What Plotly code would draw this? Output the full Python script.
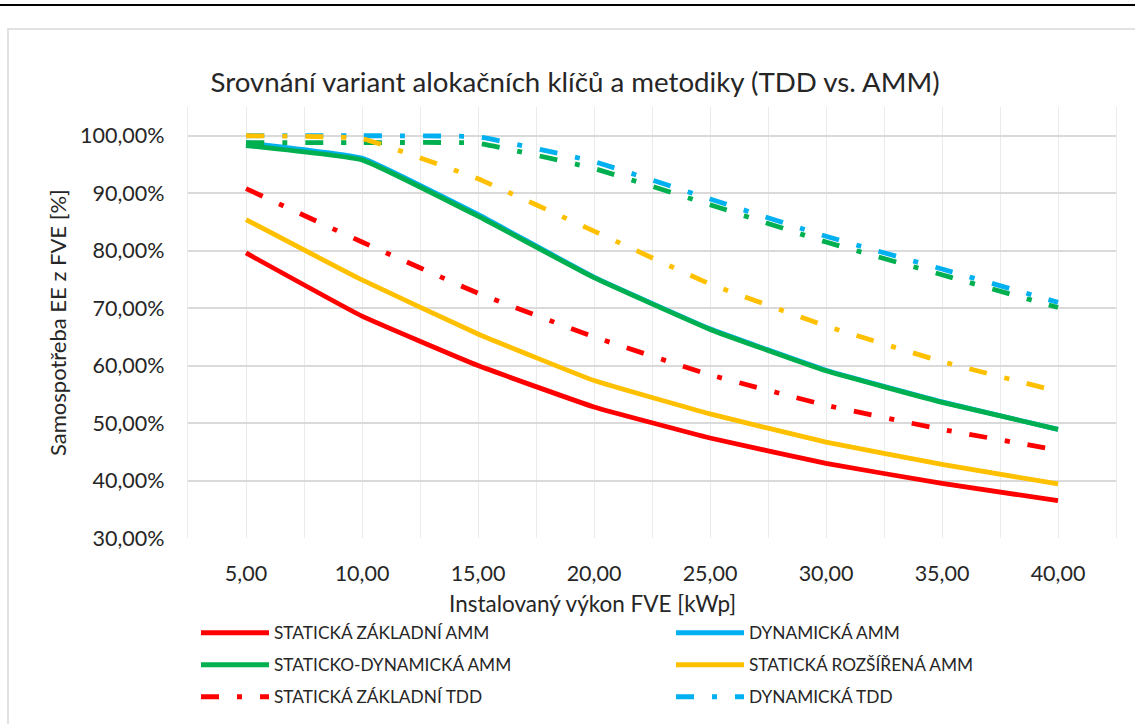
import plotly.graph_objects as go

x_kwp = [5, 10, 15, 20, 25, 30, 35, 40]

stat_zakl_amm = [79.6, 68.6, 60.0, 52.8, 47.4, 43.0, 39.5, 36.5]
dyn_amm = [98.8, 96.1, 86.3, 75.4, 66.4, 59.2, 53.7, 48.9]
stat_dyn_amm = [98.3, 95.8, 86.0, 75.3, 66.3, 59.1, 53.6, 48.9]
stat_rozs_amm = [85.4, 74.9, 65.5, 57.4, 51.6, 46.7, 42.8, 39.4]
stat_zakl_tdd = [90.8, 81.5, 72.6, 65.0, 58.4, 53.1, 48.9, 45.3]
dyn_tdd = [100.0, 100.0, 99.8, 95.5, 89.0, 82.5, 76.8, 71.0]
stat_dyn_tdd = [98.8, 98.8, 98.7, 94.3, 88.0, 81.5, 75.8, 70.1]
stat_rozs_tdd = [100.0, 99.5, 92.5, 83.4, 74.2, 66.9, 60.7, 55.5]

x_ticks = [5, 10, 15, 20, 25, 30, 35, 40]
x_tick_labels = ["5,00", "10,00", "15,00", "20,00", "25,00", "30,00", "35,00", "40,00"]

RED = "#FF0000"
GREEN = "#00B050"
YELLOW = "#FFC000"
BLUE = "#00B0F0"
DASHDOT = "18px,18px,5px,18px"
LW = 4.8

series = [
    # name, values, color, dash, legend id
    ("DYNAMICKÁ AMM", dyn_amm, BLUE, "solid", "legend2"),
    ("STATICKO-DYNAMICKÁ AMM", stat_dyn_amm, GREEN, "solid", "legend3"),
    ("STATICKÁ ROZŠÍŘENÁ AMM", stat_rozs_amm, YELLOW, "solid", "legend4"),
    ("STATICKÁ ZÁKLADNÍ AMM", stat_zakl_amm, RED, "solid", "legend"),
    ("STATICKÁ ZÁKLADNÍ TDD", stat_zakl_tdd, RED, DASHDOT, "legend5"),
    ("DYNAMICKÁ TDD", dyn_tdd, BLUE, DASHDOT, "legend6"),
    ("STATICKO-DYNAMICKÁ TDD", stat_dyn_tdd, GREEN, DASHDOT, None),
    ("STATICKÁ ROZŠÍŘENÁ TDD", stat_rozs_tdd, YELLOW, DASHDOT, None),
]

FONT = "Lato"
fig = go.Figure()
for name, vals, col, dash, leg in series:
    kw = dict(showlegend=leg is not None)
    if leg is not None:
        kw["legend"] = leg
    fig.add_trace(go.Scatter(
        x=x_kwp, y=vals, name=name, mode="lines",
        line=dict(color=col, width=LW, dash=dash, shape="spline", smoothing=0.3),
        **kw,
    ))

L, R, T, B = 188, 1116, 107, 538
W, H = 1135, 724
pw, ph = R - L, B - T

def px(xp):
    return (xp - L) / pw

def py(yp):
    return (B - yp) / ph

def legend_cell(xl, yc):
    return dict(orientation="h", x=px(xl), xanchor="left", y=py(yc), yanchor="middle",
                font=dict(family=FONT, size=17.3, color="#262626"),
                itemwidth=68, bgcolor="rgba(0,0,0,0)", borderwidth=0)

C1, C2 = 196, 671
fig.update_layout(
    width=W, height=H,
    margin=dict(l=L, r=W - R, t=T, b=H - B, pad=0, autoexpand=False),
    paper_bgcolor="white", plot_bgcolor="white",
    font=dict(family=FONT, color="#404040"),
    separators=", ",
    title=dict(text="Srovnání variant alokačních klíčů a metodiky (TDD vs. AMM)",
               x=575 / W, xanchor="center", y=1 - 82 / H, yanchor="middle",
               font=dict(family=FONT, size=27.7, color="#262626")),
    showlegend=True,
    legend=legend_cell(C1, 633),
    legend2=legend_cell(C2, 633),
    legend3=legend_cell(C1, 665),
    legend4=legend_cell(C2, 665),
    legend5=legend_cell(C1, 697),
    legend6=legend_cell(C2, 697),
)

fig.update_xaxes(
    range=[2.5, 42.5], tickvals=x_ticks, ticktext=x_tick_labels,
    showgrid=True, gridcolor="#EBEBEB", gridwidth=1.3,
    minor=dict(dtick=2.5, tick0=2.5, showgrid=True, gridcolor="#EBEBEB", gridwidth=1.3),
    zeroline=False, showline=False, ticks="",
    tickfont=dict(family=FONT, size=21.5, color="#262626"),
    ticklabelstandoff=20,
)
fig.update_yaxes(
    range=[30, 105], tick0=30, dtick=10, tickformat=".2f", ticksuffix="%",
    showgrid=True, gridcolor="#DADADA", gridwidth=1.5,
    zeroline=False, showline=True, linecolor="#EBEBEB", linewidth=1.3, mirror=True,
    ticks="", tickfont=dict(family=FONT, size=21.5, color="#262626"),
    ticklabelstandoff=18,
)

fig.add_annotation(text="Samospotřeba EE z FVE [%]", xref="paper", yref="paper",
                   x=px(57), y=py(323), xanchor="center", yanchor="middle",
                   textangle=-90, showarrow=False,
                   font=dict(family=FONT, size=22, color="#262626"))
fig.add_annotation(text="Instalovaný výkon FVE [kWp]", xref="paper", yref="paper",
                   x=px(592), y=py(603), xanchor="center", yanchor="middle",
                   showarrow=False, font=dict(family=FONT, size=22.5, color="#262626"))

# outer frame
fig.add_shape(type="line", xref="paper", yref="paper", x0=px(0), x1=px(W), y0=py(5), y1=py(5),
              line=dict(color="#000000", width=2), layer="below")
fig.add_shape(type="rect", xref="paper", yref="paper", x0=px(8), x1=px(W + 10), y0=py(29), y1=py(H + 10),
              line=dict(color="#D9D9D9", width=1.5), layer="below")

fig.write_html("out.html")
